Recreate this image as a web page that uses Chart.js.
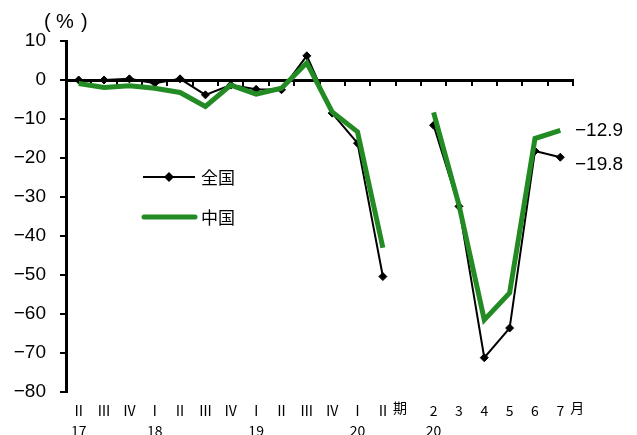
<!DOCTYPE html>
<html>
<head>
<meta charset="utf-8">
<script src="https://cdn.jsdelivr.net/npm/chart.js@4/dist/chart.umd.min.js"></script>
<style>
  html, body { margin: 0; padding: 0; background: #fff; }
  #wrap { width: 637px; height: 435px; position: relative; }
</style>
</head>
<body>
<div id="wrap"><canvas id="chart"></canvas></div>
<script>
// period labels (quarters 17Q2–20Q2, blank gap, then months 2020/2–7)
const periodLabels = ['Ⅱ', 'Ⅲ', 'Ⅳ', 'Ⅰ', 'Ⅱ', 'Ⅲ', 'Ⅳ', 'Ⅰ', 'Ⅱ', 'Ⅲ', 'Ⅳ', 'Ⅰ', 'Ⅱ', '', '2', '3', '4', '5', '6', '7'];
const yearLabels   = ['17', '', '', '18', '', '', '', '19', '', '', '', '20', '', '', '20', '', '', '', '', ''];

// % change
const zenkoku = [0, 0, 0.3, -0.8, 0.3, -3.8, -1.3, -2.4, -2.5, 6.2, -8.5, -16.2, -50.4, null, -11.6, -32.4, -71.2, -63.6, -18.2, -19.8];
const chugoku = [-0.9, -1.9, -1.5, -2.1, -3.2, -6.8, -1.3, -3.6, -2.1, 4.4, -8.2, -13.3, -43, null, -8.3, -32, -61.5, -54.6, -15, -12.9];

const yMin = -80, yMax = 10, yStep = 10;

const GREEN = '#238b23';
const JP = '"Noto Sans CJK JP", sans-serif';
const NUM = '"Liberation Sans", Arial, sans-serif';

const labels = periodLabels.map((p, i) => yearLabels[i] ? [p, yearLabels[i]] : p);

function minus(v) { return v < 0 ? '\u2212' + Math.abs(v) : String(v); }

// extra drawing: title, lower half of axis ticks, suffixes, legend, end labels
const decor = {
  id: 'decor',
  beforeDatasetsDraw(chart) {
    const { ctx } = chart;
    const x = chart.scales.x, y = chart.scales.y;
    const y0 = y.getPixelForValue(0);
    const step = x.getPixelForValue(1) - x.getPixelForValue(0);
    ctx.save();
    ctx.strokeStyle = '#000';
    ctx.lineWidth = 2;
    for (let i = 0; i < periodLabels.length; i++) {
      const px = Math.round(x.getPixelForValue(i) + step / 2);
      ctx.beginPath();
      ctx.moveTo(px, y0);
      ctx.lineTo(px, y0 + 4);
      ctx.stroke();
    }
    ctx.restore();
  },
  afterDraw(chart) {
    const { ctx } = chart;
    const x = chart.scales.x, y = chart.scales.y;
    ctx.save();
    ctx.fillStyle = '#000';
    ctx.textBaseline = 'middle';

    // unit
    ctx.font = '20px ' + NUM;
    ctx.textAlign = 'left';
    ctx.fillText('(', 44, 22);
    ctx.fillText('%', 56, 22);
    ctx.fillText(')', 81, 22);

    // suffixes after the last quarter / month
    ctx.font = '14px ' + JP;
    ctx.fillText('期', x.getPixelForValue(12) + 10, 408);
    ctx.fillText('月', x.getPixelForValue(19) + 10, 408);

    // legend
    const lx = 143, lw = 52;
    ctx.strokeStyle = '#000';
    ctx.lineWidth = 2;
    ctx.beginPath(); ctx.moveTo(lx, 177); ctx.lineTo(lx + lw, 177); ctx.stroke();
    ctx.beginPath();
    ctx.moveTo(lx + 26, 172); ctx.lineTo(lx + 31, 177); ctx.lineTo(lx + 26, 182); ctx.lineTo(lx + 21, 177);
    ctx.closePath(); ctx.fill();
    ctx.strokeStyle = GREEN;
    ctx.lineWidth = 5;
    ctx.lineCap = 'round';
    ctx.beginPath(); ctx.moveTo(lx + 1, 217); ctx.lineTo(lx + lw, 217); ctx.stroke();
    ctx.font = '17px ' + JP;
    ctx.fillText('全国', 201, 178);
    ctx.fillText('中国', 201, 218);

    // end-point values
    const last = periodLabels.length - 1;
    ctx.font = '19px ' + NUM;
    ctx.fillText(minus(chugoku[last]), chart.chartArea.right + 2, y.getPixelForValue(chugoku[last]));
    ctx.fillText(minus(zenkoku[last]), chart.chartArea.right + 2, y.getPixelForValue(zenkoku[last]) + 8);
    ctx.restore();
  }
};

new Chart(document.getElementById('chart'), {
  type: 'line',
  data: {
    labels: labels,
    datasets: [
      {
        label: '中国',
        data: chugoku,
        borderColor: GREEN,
        borderWidth: 5,
        pointRadius: 0,
        tension: 0,
        spanGaps: false,
        order: 0,
      },
      {
        label: '全国',
        data: zenkoku,
        borderColor: '#000',
        backgroundColor: '#000',
        borderWidth: 2,
        pointStyle: 'rectRot',
        pointRadius: 4,
        pointBorderWidth: 1,
        tension: 0,
        spanGaps: false,
        order: 1,
      },
    ],
  },
  options: {
    responsive: true,
    maintainAspectRatio: false,
    animation: false,
    layout: { padding: { top: 41, right: 64, left: 0, bottom: 0 } },
    plugins: {
      legend: { display: false },
      tooltip: { enabled: false },
    },
    scales: {
      x: {
        position: 'bottom',
        offset: true,
        border: { display: false },
        grid: { display: false },
        ticks: {
          color: '#000',
          font: { family: JP, size: 14, lineHeight: 1.4 },
          padding: 1,
          autoSkip: false,
          maxRotation: 0,
        },
        afterFit(s) { s.height = 43; },
      },
      x2: {
        position: { y: 0 },
        offset: true,
        border: { display: true, color: '#000', width: 3 },
        grid: { offset: true, drawOnChartArea: false, tickLength: 4, color: '#000', lineWidth: 2 },
        ticks: { display: false },
      },
      y: {
        position: 'left',
        min: yMin,
        max: yMax,
        border: { display: true, color: '#000', width: 3 },
        grid: { drawOnChartArea: false, tickLength: 6, color: '#000', lineWidth: 2 },
        ticks: {
          stepSize: yStep,
          color: '#000',
          font: { family: NUM, size: 19 },
          padding: 14,
          callback: v => minus(v),
        },
        afterFit(s) { s.width = 66; },
      },
    },
  },
  plugins: [decor],
});
</script>
</body>
</html>
